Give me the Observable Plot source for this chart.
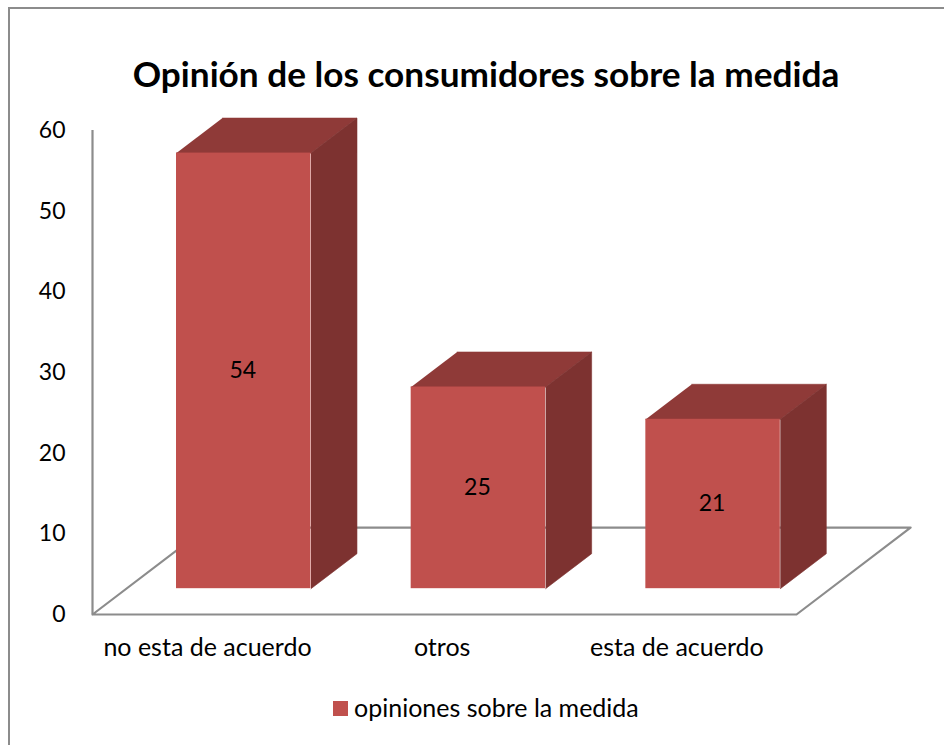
<!DOCTYPE html>
<html>
<head>
<meta charset="utf-8">
<script src="https://cdn.jsdelivr.net/npm/d3@7"></script>
<script src="https://cdn.jsdelivr.net/npm/@observablehq/plot@0.6"></script>
<style>
  html, body { margin: 0; padding: 0; background: #fff; }
  #chart { position: relative; width: 944px; height: 745px; overflow: hidden; font-family: Lato, sans-serif; color: #000; }
  #frame { position: absolute; left: 8px; top: 7px; right: -4px; bottom: -4px; border: 2px solid #8c8c8c; }
  #title { position: absolute; left: 0; top: 48px; width: 972px; text-align: center; font-size: 35.2px; font-weight: 700; line-height: 50px; }
  #plot { position: absolute; left: 0; top: 108px; }
  #legend { position: absolute; left: 333px; top: 692px; display: flex; align-items: center; font-size: 25px; line-height: 32px; }
  #legend i { display: block; width: 15px; height: 15px; background: #c0504d; margin-right: 6px; }
  #legend span { position: relative; top: -1px; }
  svg text { font-family: Lato, sans-serif; }
</style>
</head>
<body>
<div id="chart">
  <div id="frame"></div>
  <div id="title">Opinión de los consumidores sobre la medida</div>
  <div id="plot"></div>
  <div id="legend"><i></i><span>opiniones sobre la medida</span></div>
</div>
<script>
const categories = ["no esta de acuerdo", "otros", "esta de acuerdo"];
const values = [54, 25, 21];
const yTicks = [0, 10, 20, 30, 40, 50, 60];

// 3-D projection parameters, in data units (x: category slots, y: axis units)
const barStart = 0.358, barWidth = 0.573, barLift = 3.2, depthX = 0.196, depthY = 4.34;
const floorDepthX = 0.486, floorDepthY = 10.78;

const bars = categories.map((c, i) => {
  const x1 = i + barStart, x2 = x1 + barWidth, y1 = barLift, y2 = barLift + values[i];
  return {c, v: values[i], i, x1, x2, y1, y2};
});
const topFace = bars.flatMap(b => [
  {x: b.x1, y: b.y2}, {x: b.x2, y: b.y2}, {x: b.x2 + depthX, y: b.y2 + depthY}, {x: b.x1 + depthX, y: b.y2 + depthY}
].map(p => ({...p, k: b.i})));
const sideFace = bars.flatMap(b => [
  {x: b.x2, y: b.y1}, {x: b.x2 + depthX, y: b.y1 + depthY}, {x: b.x2 + depthX, y: b.y2 + depthY}, {x: b.x2, y: b.y2}
].map(p => ({...p, k: b.i})));
const floorOutline = [
  {x: 0, y: 0}, {x: 3, y: 0}, {x: 3 + floorDepthX, y: floorDepthY}, {x: floorDepthX, y: floorDepthY}, {x: 0, y: 0}
];

const gray = "#8c8c8c";
const svg = Plot.plot({
  width: 944,
  height: 584,
  marginLeft: 92,
  marginRight: 148,
  marginTop: 22,
  marginBottom: 78,
  x: {domain: [0, 3]},
  y: {domain: [0, 60]},
  marks: [
    Plot.line(floorOutline, {x: "x", y: "y", stroke: gray, strokeWidth: 2.2}),
    Plot.ruleX([0], {y1: 0, y2: 60, stroke: gray, strokeWidth: 2.2}),
    Plot.line(topFace, {x: "x", y: "y", z: "k", fill: "#8f3a38", stroke: "#8f3a38", strokeWidth: 0.6}),
    Plot.line(sideFace, {x: "x", y: "y", z: "k", fill: "#7d3230", stroke: "#7d3230", strokeWidth: 0.6}),
    Plot.rect(bars, {x1: "x1", x2: "x2", y1: "y1", y2: "y2", fill: "#c0504d"}),
    Plot.text(bars, {x: d => (d.x1 + d.x2) / 2, y: d => (d.y1 + d.y2) / 2, dx: -1, text: "v", fontSize: 23, fill: "#000"}),
    Plot.axisY({ticks: yTicks, tickSize: 0, tickPadding: 27, fontSize: 23, label: null, color: "#000"}),
    Plot.axisX({ticks: [0.49, 1.49, 2.49], tickFormat: t => categories[Math.floor(t)], tickSize: 0, tickPadding: 24, fontSize: 25, label: null, color: "#000"})
  ]
});
document.getElementById("plot").appendChild(svg);
</script>
</body>
</html>
